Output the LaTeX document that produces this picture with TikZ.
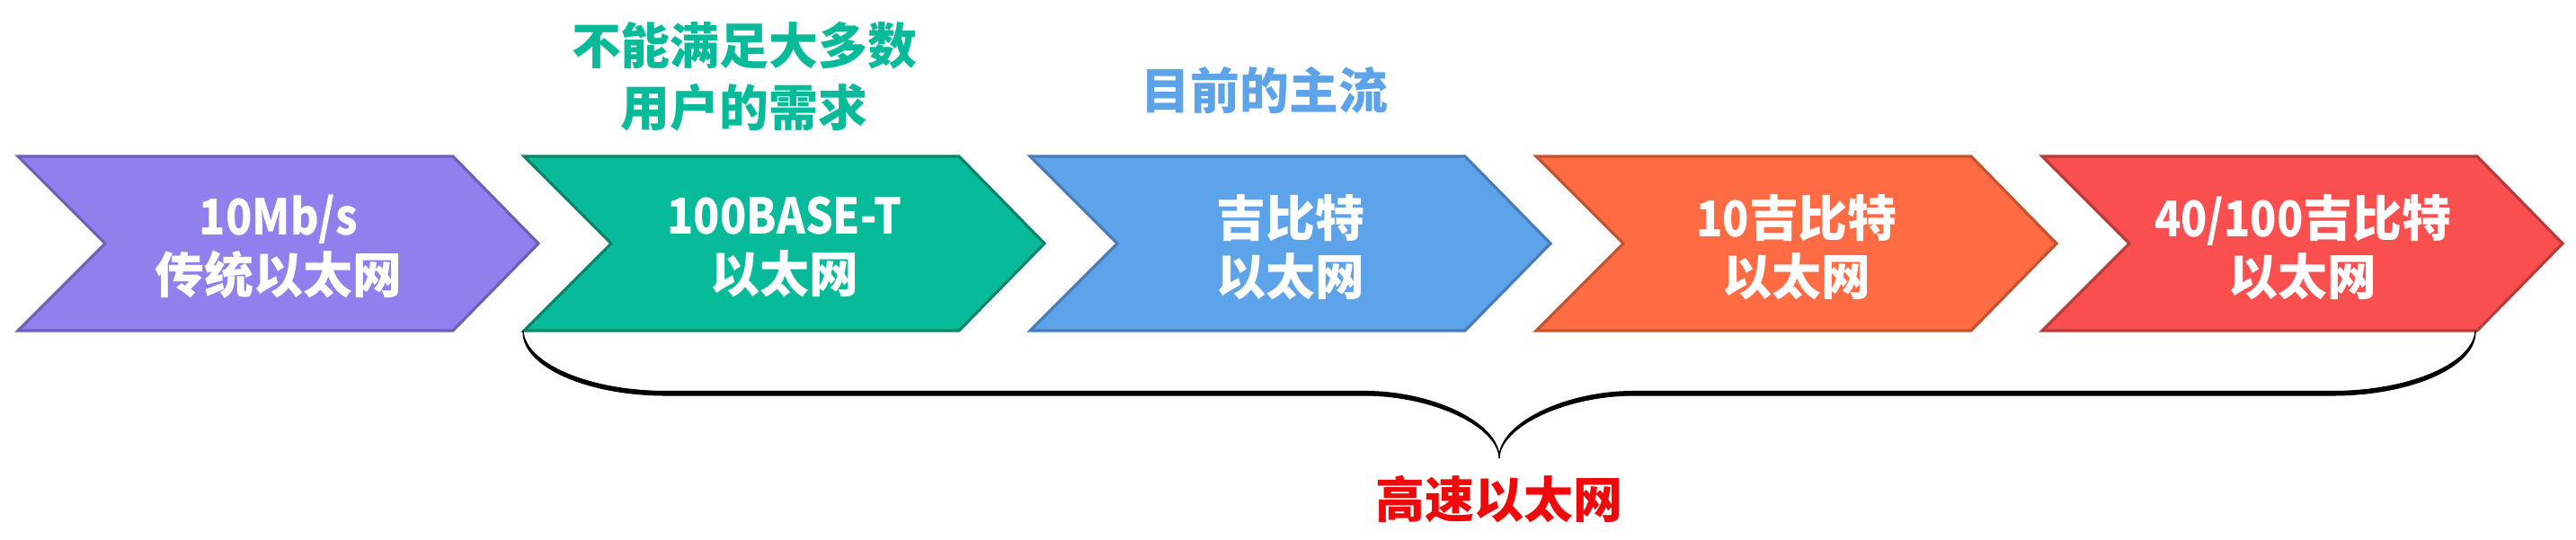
\documentclass[tikz,border=0pt]{standalone}
\usepackage{fontspec}
\usepackage{tikz}
\usepackage{xcolor}
\usetikzlibrary{calc, positioning}

\newfontfamily\cjk{Noto Sans CJK SC}
\newfontfamily\narrow{Noto Sans CJK SC}[FakeStretch=0.88]

\definecolor{purpfill}{HTML}{8F80EE}
\definecolor{purpline}{HTML}{6B5FB8}
\definecolor{greenfill}{HTML}{07BB9A}
\definecolor{greenline}{HTML}{078468}
\definecolor{bluefill}{HTML}{5CA3E9}
\definecolor{blueline}{HTML}{4A7BB8}
\definecolor{orangefill}{HTML}{FF6B43}
\definecolor{orangeline}{HTML}{C4532F}
\definecolor{redfill}{HTML}{F94F4F}
\definecolor{redline}{HTML}{B83A3A}
\definecolor{fastred}{HTML}{EE0A0A}

\newcommand{\lat}[1]{{\narrow\bfseries #1}}

\tikzset{
    chev/.style={line width=0.9pt, line join=miter},
    chevtext/.style={text=white, align=center, inner sep=0pt,
        font=\cjk\bfseries\fontsize{15.6pt}{18.5pt}\selectfont},
    note/.style={align=center, inner sep=0pt,
        font=\cjk\bfseries\fontsize{15.6pt}{19.6pt}\selectfont}
}

\begin{document}
\begin{tikzpicture}
                    \useasboundingbox (0, 0) rectangle (28.66, 6);

                    \foreach \x/\f/\t in {0/purp/{\lat{10Mb/s}\\传统以太网}, 1/green/{\lat{100BASE-T}\\以太网}, 2/blue/{吉比特\\以太网}, 3/orange/{\lat{10}吉比特\\以太网}, 4/red/{\lat{40/100}吉比特\\以太网}} {
                        \draw[chev, fill=\f fill, draw=\f line]
                        (0.2 + 5.63*\x, 4.26) -- (5.04 + 5.63*\x, 4.26) -- (5.99 + 5.63*\x, 3.29)
                        -- (5.04 + 5.63*\x, 2.32) -- (0.2 + 5.63*\x, 2.32) -- (1.17 + 5.63*\x, 3.29) -- cycle;

                        \node[chevtext] (eth\x) at (3.1 + 5.63*\x, 3.25) {\t};
                    }

                    \node[note, text=greenfill] (lowspeed) at (8.28, 5.15) {不能满足大多数\\用户的需求};
                    \node[note, text=bluefill] (mainstream) at (14.07, 4.99) {目前的主流};
                    \node[note, text=fastred] (fast) at (16.68, 0.45) {高速以太网};

                    \foreach \s in {1, -1} {
                        \begin{scope}[shift={(16.68, 0)}, xscale=\s]
                            \filldraw[line width=0.3pt]
                            (-10.86, 2.32) .. controls (-10.88, 1.92) and (-10.14, 1.60) .. (-9.27, 1.60)
                            -- (-1.5, 1.60) .. controls (-0.75, 1.60) and (-0.01, 1.26) .. (0, 0.90)
                            .. controls (0.01, 1.28) and (-0.72, 1.645) .. (-1.5, 1.645)
                            -- (-9.27, 1.645) .. controls (-10.12, 1.645) and (-10.84, 1.95) .. (-10.86, 2.32) -- cycle;
                        \end{scope}
                    }
                \end{tikzpicture}
\end{document}
